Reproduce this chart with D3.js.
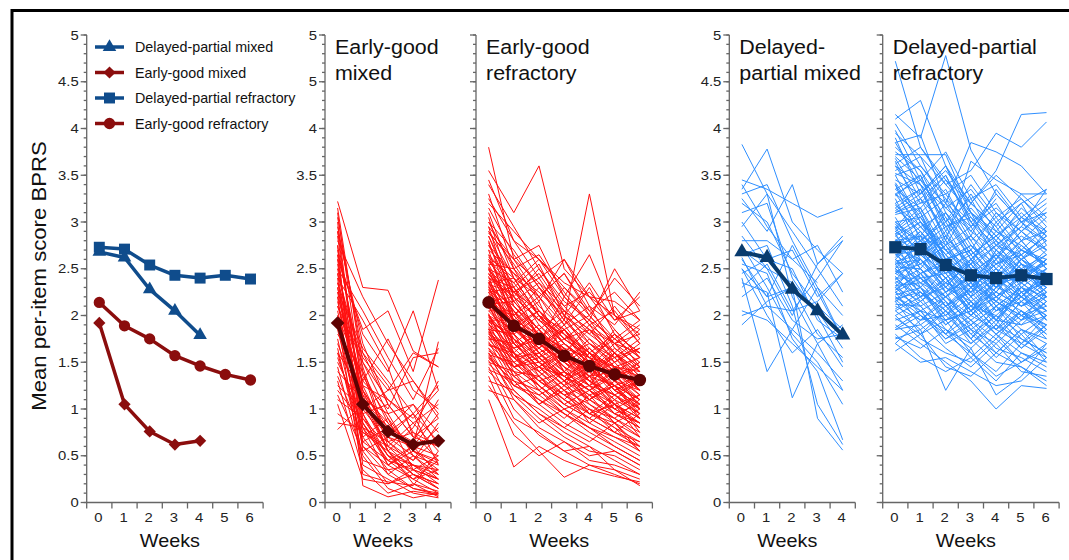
<!DOCTYPE html>
<html lang="en">
<head>
  <meta charset="UTF-8">
  <title>BPRS trajectories</title>
  <script src="https://d3js.org/d3.v7.min.js"></script>
  <style>
    body { margin: 0; background: #fff; }
    svg { display: block; font-family: "Liberation Sans", Arial, sans-serif; }
    .tick-label { fill: #222; }
    .axis-line { stroke: #666; stroke-width: 1.3; fill: none; }
  </style>
</head>
<body>
  <svg width="1069" height="560"></svg>
  <script>
    const svg = d3.select("svg");

    // ---- data ----
    const weekTicks = [0, 1, 2, 3, 4, 5, 6];
    const yTicks = [0, 0.5, 1, 1.5, 2, 2.5, 3, 3.5, 4, 4.5, 5];
    const yLabels = ["0", "0.5", "1", "1.5", "2", "2.5", "3", "3.5", "4", "4.5", "5"];
    const yLabelsPanel2 = ["0", "0.5", "1", "1.5", "2", "2.5", "3", "3.5", "4", "5", "5"];

    const legendLabels = ["Delayed-partial mixed", "Early-good mixed", "Delayed-partial refractory", "Early-good refractory"];
    const panelTitles = [
      ["Early-good", "mixed"],
      ["Early-good", "refractory"],
      ["Delayed-", "partial mixed"],
      ["Delayed-partial", "refractory"]
    ];

    const meanDPM = [2.68, 2.62, 2.28, 2.05, 1.79];
    const meanEGM = [1.92, 1.05, 0.76, 0.62, 0.66];
    const meanDPR = [2.73, 2.71, 2.54, 2.43, 2.40, 2.43, 2.39];
    const meanEGR = [2.14, 1.89, 1.75, 1.57, 1.46, 1.37, 1.31];

    const egmLines = [
      [3.22,2.30,2.27,1.62,1.45],[3.10,1.20,0.55,0.30,0.20],[2.95,1.60,1.25,0.75,0.45],[2.85,0.95,0.40,0.25,0.10],
      [2.80,2.20,1.70,1.30,0.90],[2.70,1.35,0.90,0.55,0.35],[2.65,1.80,1.40,2.05,1.20],[2.60,0.70,0.35,0.15,0.08],
      [2.55,1.10,0.80,1.05,0.60],[2.50,2.05,1.55,1.10,1.65],[2.45,1.45,0.65,0.40,0.30],[2.40,0.55,0.20,0.35,0.15],
      [2.35,1.25,1.10,0.85,0.55],[2.30,0.90,0.60,0.45,0.70],[2.25,1.65,1.30,0.95,1.25],[2.20,0.40,0.25,0.10,0.05],
      [2.15,1.05,0.70,0.60,1.72],[2.10,1.50,0.95,0.50,0.40],[2.05,0.85,0.50,0.30,0.20],[2.00,1.30,1.75,1.20,1.00],
      [1.95,0.65,0.45,0.60,0.95],[1.90,1.15,0.85,0.55,0.80],[1.85,0.75,0.55,0.20,0.12],[1.80,1.40,0.60,0.35,0.50],
      [1.75,0.60,0.30,0.50,0.25],[1.70,1.00,1.20,1.60,1.45],[1.65,0.50,0.15,0.05,0.10],[1.60,1.20,0.75,0.95,0.40],
      [1.55,0.80,0.45,0.25,0.35],[1.50,0.95,1.05,0.70,0.60],[1.45,0.45,0.35,0.40,0.20],[1.40,1.10,0.55,0.80,1.30],
      [1.35,0.70,0.90,0.35,0.25],[1.30,0.35,0.10,0.20,0.06],[1.25,1.00,0.65,0.45,0.85],[1.20,0.85,0.40,0.60,0.30],
      [1.15,0.55,0.70,0.95,0.65],[1.10,0.90,0.50,0.25,0.45],[1.05,0.25,0.20,0.30,0.15],[0.95,0.75,0.60,0.85,1.05],
      [0.85,0.80,0.30,0.15,0.10],[0.78,1.05,0.55,0.40,0.35],[3.05,1.50,1.10,0.90,1.20],[2.75,0.18,0.06,0.12,0.08],
      [2.40,1.95,1.45,0.70],[2.00,1.60,1.05],[1.95,0.30,0.22,0.18,0.55],[2.90,1.00],[1.60,0.65,0.80,0.55,0.42],
      [2.20,1.30,1.00,1.55,1.60],[2.60,1.85,2.05,1.40,2.38],[2.30,1.10,0.95,1.05,0.75],
      [3.15,1.40,0.85,0.60,0.50],[3.00,0.85,0.45,0.35,0.25],[2.90,1.70,1.05,0.70,0.90],[2.75,1.25,0.70,0.50,0.30],
      [2.65,0.60,0.40,0.55,0.45],[2.50,1.15,0.55,0.30,0.15],[2.45,0.80,0.65,0.75,0.60],[2.35,1.55,1.20,1.30,0.95],
      [2.25,0.95,0.50,0.40,0.25],[2.10,1.20,0.80,0.65,1.10]
    ];

    const egrLines = [
      [3.80,2.60,2.75,2.20,1.90,1.70,1.50],[3.55,3.10,3.60,2.50,2.20,2.00,1.85],[3.45,2.80,2.40,2.60,2.10,1.90,2.25],
      [3.30,2.50,2.20,1.90,2.30,1.80,1.60],[3.20,2.90,2.60,2.30,2.00,2.40,2.10],[3.10,2.40,2.00,1.70,1.50,1.30,1.20],
      [3.05,2.20,2.50,2.10,1.80,1.60,1.40],[3.00,2.70,2.30,1.95,3.30,2.00,1.70],[2.95,2.10,1.80,1.60,1.40,1.25,1.10],
      [2.90,2.55,2.15,2.60,2.20,1.85,1.55],[2.85,2.30,2.00,1.75,1.55,1.45,1.35],[2.80,2.00,1.70,2.20,1.95,2.50,2.05],
      [2.75,2.45,2.10,1.85,1.60,1.40,1.00],[2.70,1.90,1.60,1.35,1.20,1.05,0.90],[2.65,2.35,2.60,2.20,2.65,2.00,1.80],
      [2.60,2.15,1.85,1.50,1.35,1.60,1.30],[2.55,2.50,2.05,1.80,1.45,1.20,1.05],[2.50,1.80,1.55,1.30,1.10,0.95,0.80],
      [2.48,2.25,2.40,2.00,1.75,1.55,1.65],[2.45,2.05,1.75,1.95,1.65,1.40,1.20],[2.42,1.70,1.45,1.25,1.60,1.30,1.50],
      [2.40,2.20,1.95,1.70,1.50,1.80,1.45],[2.38,1.95,2.15,1.55,1.30,1.15,0.95],[2.35,2.40,2.00,1.85,2.00,1.70,1.60],
      [2.32,1.60,1.30,1.10,0.90,0.75,0.60],[2.30,2.10,1.80,1.65,1.40,1.55,1.25],[2.28,1.85,1.65,1.90,1.55,1.35,1.15],
      [2.25,2.30,1.90,1.60,1.85,1.50,1.70],[2.22,1.75,1.50,1.35,1.15,1.00,0.85],[2.20,2.00,2.20,1.80,1.60,1.45,1.40],
      [2.18,1.55,1.70,1.45,1.25,1.60,1.35],[2.15,1.90,1.55,1.30,1.50,1.20,1.00],[2.12,2.15,1.85,2.05,1.70,1.55,1.75],
      [2.10,1.65,1.40,1.15,1.00,0.80,0.65],[2.08,1.80,2.00,1.60,1.35,1.25,1.10],[2.05,2.05,1.60,1.75,1.55,1.30,1.45],
      [2.02,1.45,1.25,1.00,0.85,1.05,0.70],[2.00,1.85,1.70,1.50,1.65,1.40,1.55],[1.98,1.60,1.85,1.40,1.20,0.95,0.80],
      [1.95,1.95,1.50,1.65,1.40,1.60,1.25],[1.92,1.40,1.20,0.95,0.75,0.60,0.45],[1.90,1.75,1.55,1.30,1.45,1.15,1.30],
      [1.88,1.50,1.65,1.45,1.10,1.25,0.95],[1.85,1.80,1.40,1.20,1.35,1.00,1.15],[1.82,1.35,1.15,1.30,0.95,0.80,0.55],
      [1.80,1.65,1.75,1.50,1.30,1.45,1.20],[1.78,1.30,1.05,0.85,0.70,0.55,0.40],[1.75,1.70,1.45,1.60,1.45,1.25,1.35],
      [1.72,1.25,1.35,1.05,0.90,1.10,0.75],[1.70,1.55,1.30,1.15,1.25,0.95,0.85],[1.68,1.60,1.20,1.40,1.05,0.85,1.00],
      [1.65,1.20,0.95,0.75,0.60,0.45,0.30],[1.62,1.45,1.50,1.25,1.10,1.30,1.05],[1.60,1.10,0.85,1.00,0.80,0.65,0.50],
      [1.58,1.50,1.25,1.05,0.90,0.75,0.95],[1.55,1.35,1.10,0.90,1.15,0.85,0.70],[1.52,1.00,0.72,0.55,0.40,0.30,0.20],
      [1.50,1.40,1.35,1.10,0.95,1.05,0.80],[1.45,0.90,0.75,0.55,0.60,0.35,0.25],[1.42,1.30,1.05,1.20,0.85,0.70,0.55],
      [1.40,1.15,0.90,0.70,0.55,0.50,0.35],[1.35,0.72,0.50,0.65,0.45,0.40,0.30],[1.30,1.20,0.95,0.80,1.00,0.75,0.65],
      [1.25,0.85,0.55,0.27,0.40,0.35,0.18],[1.20,1.10,0.80,0.65,0.50,0.55,0.40],[1.10,0.38,0.60,0.45,0.35,0.28,0.22],
      [2.60,2.30,2.55,2.00,2.35,1.95,2.20],[2.45,2.20,1.95,2.30,2.05,1.75,1.95],[2.35,2.05,1.80,1.55,1.70,1.45,1.55],
      [2.25,1.70,1.90,1.65,1.35,1.50,1.20],[2.15,2.20,1.75,1.45,1.30,1.10,1.30],[2.05,1.75,1.35,1.55,1.25,1.15,0.90],
      [1.95,1.55,1.60,1.35,1.50,1.20,1.05],[1.85,1.60,1.35,1.15,0.95,1.15,1.00],[1.75,1.45,1.55,1.35,1.20,1.35,1.10],
      [1.65,1.40,1.05,1.25,1.00,0.90,0.75],[2.90,2.40,2.20,2.45,2.00,1.70,1.90],[2.70,2.45,2.25,2.00,1.80,2.10,1.75],
      [2.55,2.00,2.30,1.90,2.10,1.65,1.45],[2.40,2.30,1.75,2.00,1.60,1.80,1.60],[2.30,1.90,2.05,1.75,1.85,1.60,1.85],
      [2.20,1.85,1.60,1.40,1.65,1.35,1.50],[2.10,2.00,1.70,1.85,1.45,1.70,1.40],[2.00,1.70,1.50,1.25,1.40,1.05,1.15],
      [1.90,1.65,1.80,1.55,1.35,1.40,1.25],[1.80,1.55,1.40,1.60,1.30,1.15,0.95],[3.15,2.65,2.30,2.05,1.85,1.60,1.35],
      [2.85,2.20,1.95,1.70,1.50,1.85,1.55],[2.65,1.95,1.70,1.50,1.25,1.05,0.85],[2.50,2.10,1.85,1.60,1.90,1.55,1.30],
      [2.35,1.80,1.55,1.85,1.55,1.25,1.00],[2.25,1.95,1.65,1.40,1.20,1.40,1.15],[2.10,1.60,1.45,1.20,1.05,0.90,1.10],
      [1.95,1.75,1.50,1.30,1.60,1.30,1.10],[2.75,2.25,2.05,1.80,1.60,1.35],[2.20,1.90,1.60,1.35],[1.85,1.45,1.25],
      [2.50,2.35,2.00,1.75,1.55],[3.25,2.80,2.60,2.35,2.20,2.15,1.95],[1.60,1.25,1.10,0.95,0.80,0.60,0.45],
      [2.95,2.60,2.20,2.45,2.05,2.25,1.95],[2.78,2.15,2.35,1.95,1.70,1.50,1.65],[2.62,2.40,2.00,1.75,1.95,1.60,1.40],
      [2.52,1.95,1.65,1.85,1.50,1.30,1.05],[2.44,2.15,1.85,1.55,1.40,1.65,1.45],[2.36,1.85,2.05,1.70,1.45,1.20,1.35],
      [2.27,2.05,1.70,1.50,1.75,1.45,1.25],[2.18,1.70,1.45,1.65,1.30,1.05,0.90],[2.09,1.90,1.75,1.40,1.25,1.40,1.20],
      [2.01,1.55,1.30,1.10,1.35,1.10,0.95],[1.93,1.80,1.55,1.70,1.45,1.20,1.30],[1.86,1.35,1.45,1.20,0.95,0.85,0.60],
      [1.77,1.60,1.25,1.05,1.20,0.95,1.05],[1.69,1.45,1.60,1.30,1.15,1.25,0.90],[1.57,1.15,1.00,0.80,0.65,0.85,0.55],
      [1.48,1.25,1.15,0.95,0.80,0.70,0.60],[3.40,2.95,2.50,2.15,1.95,1.75,1.55],[3.00,2.50,2.65,2.25,1.90,2.05,1.70],
      [2.88,2.60,2.35,2.10,2.25,1.95,2.05],[2.58,2.25,2.45,2.05,1.85,1.70,1.80],[2.33,2.25,1.95,1.80,1.55,1.75,1.55],
      [2.14,1.95,1.80,1.65,1.55,1.35,1.45],[1.99,1.70,1.45,1.35,1.10,1.25,1.00],[1.83,1.50,1.30,1.40,1.20,1.00,0.85],
      [1.54,1.30,1.20,1.00,1.10,0.90,0.70]
    ];

    const dpmLines = [
      [3.83,3.30,2.90,2.50,2.10],[3.45,3.35,3.20,3.05,3.15],[3.35,3.78,3.00,2.70,2.45],[3.30,3.40,2.80,2.30,1.75],
      [3.25,2.90,3.40,2.55,2.80],[3.10,3.20,2.40,2.00,1.50],[3.00,2.60,2.70,2.20,2.45],[2.95,3.30,2.20,1.70,1.20],
      [2.85,2.50,2.00,2.55,2.85],[2.80,2.80,2.60,2.75,2.25],[2.75,2.30,1.80,1.50,1.05],[2.70,2.50,2.35,2.05,1.65],
      [2.65,2.75,2.10,1.05,0.62],[2.60,2.20,2.30,0.90,0.56],[2.55,2.45,1.75,1.40,0.67],[2.50,2.00,1.60,1.85,1.45],
      [2.45,2.60,2.50,1.95,1.75],[2.40,1.40,1.85,1.60,1.30],[2.35,2.25,1.12,1.70,1.90],[2.30,2.55,2.05,2.15,2.45],
      [2.20,2.40,1.95,1.75,1.80],[2.00,2.10,1.85,2.30,2.00],[1.90,2.15,2.30,1.80,1.55],[3.40,2.95,2.60,2.35],
      [2.62,2.10,2.05,2.40,2.80],[3.20,3.00,2.45,2.10,1.85],[2.50,2.20,2.75,2.25,1.75],[2.05,1.95,1.70,1.45,1.20]
    ];

    const dprLines = [
      [4.72,3.80,3.40,3.10,2.80,2.60,2.90],[4.15,3.90,4.78,3.77,3.30,3.00,2.70],[4.10,4.30,3.60,3.20,3.55,4.15,4.17],
      [3.95,3.70,3.40,3.55,3.95,3.80,4.07],[3.85,3.93,3.20,3.85,3.75,3.60,3.30],[3.72,3.72,3.72,3.10,2.90,2.70,2.60],
      [3.85,3.40,2.80,3.65,3.45,3.30,3.30],[3.60,3.20,3.50,3.00,2.75,2.95,3.35],[3.55,3.70,3.10,2.70,3.10,2.80,2.50],
      [3.50,3.00,2.70,2.50,2.30,2.60,2.40],[3.45,3.30,3.60,3.10,2.60,3.05,2.90],[3.40,2.80,3.00,2.60,2.80,2.40,2.20],
      [3.35,3.50,2.90,3.30,2.90,3.20,2.75],[3.30,3.10,2.60,2.30,2.50,2.20,2.00],[3.25,2.70,3.10,2.80,2.40,2.70,2.55],
      [3.20,3.35,2.80,2.55,3.00,2.65,2.85],[3.15,2.90,2.50,2.20,1.90,2.30,2.10],[3.10,3.20,3.30,2.90,2.70,2.50,2.65],
      [3.05,2.60,2.30,2.60,2.20,2.45,2.30],[3.00,3.05,2.70,2.40,2.60,2.90,3.10],[2.95,2.50,2.85,2.50,2.15,2.00,1.80],
      [2.92,3.15,2.60,2.75,2.45,2.75,2.50],[2.90,2.70,2.40,2.05,2.35,2.10,2.25],[2.88,2.40,2.20,2.35,1.95,2.25,1.95],
      [2.85,3.00,2.55,2.20,2.70,2.40,2.60],[2.82,2.55,2.75,2.45,2.25,2.55,2.20],[2.80,2.85,2.30,2.60,2.40,2.20,2.45],
      [2.78,2.30,2.10,1.90,2.10,1.85,1.70],[2.75,2.95,2.65,2.30,2.55,2.65,2.35],[2.72,2.60,2.35,2.55,2.20,2.35,2.15],
      [2.70,2.20,2.50,2.15,1.85,2.15,2.40],[2.68,2.75,2.45,2.70,2.35,2.00,2.20],[2.65,2.45,2.20,2.00,2.30,2.50,2.30],
      [2.62,2.90,2.60,2.40,2.05,2.30,2.10],[2.60,2.35,2.05,2.30,2.50,2.20,1.95],[2.58,2.65,2.40,2.10,1.80,1.60,1.50],
      [2.55,2.15,2.35,2.55,2.30,2.60,2.80],[2.52,2.50,2.15,1.95,2.15,1.95,2.05],[2.50,2.80,2.50,2.25,2.45,2.25,2.35],
      [2.48,2.25,2.00,2.20,1.95,2.35,2.15],[2.45,2.55,2.30,2.05,2.20,2.05,1.85],[2.42,2.10,2.25,1.85,1.70,1.95,2.25],
      [2.40,2.40,2.10,2.35,2.05,2.15,2.00],[2.38,2.65,2.45,2.15,2.35,2.40,2.55],[2.35,2.00,1.85,1.70,1.90,1.75,1.60],
      [2.32,2.35,2.20,2.45,2.10,2.30,2.20],[2.30,2.05,1.95,2.05,1.80,2.00,1.90],[2.28,2.45,2.55,2.25,2.60,2.25,2.40],
      [2.25,1.90,2.10,1.80,1.60,1.85,1.75],[2.22,2.30,1.90,2.10,2.25,2.10,2.30],[2.20,2.00,1.75,1.95,1.65,1.55,1.40],
      [2.18,2.25,2.05,1.85,2.05,2.20,2.05],[2.15,1.80,1.95,1.60,1.40,1.70,1.90],[2.12,2.10,1.80,2.00,1.85,1.70,1.55],
      [2.10,1.95,2.15,1.75,1.50,1.45,1.30],[2.05,2.20,1.85,1.65,1.90,1.65,1.85],[2.00,1.75,1.60,1.50,1.75,1.50,1.65],
      [1.95,2.05,1.70,1.85,1.55,1.80,1.50],[1.90,1.70,1.50,1.30,1.00,1.25,1.22],[1.85,1.90,1.65,1.45,1.70,1.40,1.35],
      [1.80,1.55,1.40,1.55,1.30,1.60,1.45],[1.75,1.85,1.20,1.65,1.15,1.35,1.70],[1.70,1.50,1.55,1.40,1.25,1.30,1.55],
      [1.62,1.80,1.45,1.35,1.60,1.45,1.25],[3.90,3.30,3.60,3.00,3.20,2.80,3.05],[3.75,3.55,3.00,3.40,3.05,3.25,2.95],
      [3.65,3.10,3.35,2.85,3.35,3.00,3.20],[3.50,3.60,3.25,3.00,2.65,2.85,2.70],[3.40,3.00,2.75,3.20,2.95,2.55,2.45],
      [3.30,3.45,3.05,2.65,2.85,3.10,2.85],[3.20,2.85,3.20,2.75,2.50,2.35,2.60],[3.10,3.25,2.75,2.95,2.55,2.70,2.95],
      [3.00,2.75,2.95,2.50,2.75,2.50,2.30],[2.90,3.10,2.50,2.65,2.30,2.45,2.65],[2.85,2.65,2.80,2.35,2.55,2.80,2.50],
      [2.80,2.50,2.20,2.45,2.65,2.30,2.05],[2.75,2.85,2.70,2.40,2.15,2.45,2.25],[2.70,2.45,2.60,2.20,2.40,2.15,2.35],
      [2.65,2.70,2.25,2.50,2.25,2.60,2.45],[2.60,2.40,2.45,2.10,2.00,2.25,1.95],[2.55,2.60,2.35,2.25,2.45,2.35,2.60],
      [2.50,2.30,2.00,2.30,2.15,2.00,2.10],[2.45,2.70,2.40,2.00,2.30,2.55,2.35],[2.40,2.20,2.30,2.15,1.85,2.05,1.90],
      [2.35,2.50,2.25,2.40,2.20,2.40,2.20],[2.30,2.15,1.90,2.10,2.35,2.10,2.30],[2.25,2.40,2.15,1.80,2.00,1.80,2.00],
      [2.20,2.05,2.20,1.95,1.75,2.05,1.80],[2.15,2.30,1.95,2.15,1.95,1.90,2.15],[2.05,1.85,2.05,1.75,2.10,1.75,1.60],
      [3.70,3.45,3.20,2.95,3.30,3.00,2.80],[3.35,3.15,3.45,3.05,2.80,3.15,2.90],[3.15,3.35,2.85,3.15,2.85,2.60,2.75],
      [2.95,2.80,3.05,2.60,2.90,2.75,2.55],[2.80,3.00,2.65,2.85,2.60,2.90,2.65],[2.60,2.85,2.50,2.30,2.70,2.45,2.70],
      [2.45,2.30,2.60,2.70,2.40,2.20,2.50],[2.30,2.60,2.35,2.05,2.40,2.60,2.35],[2.15,2.45,2.10,2.30,1.95,2.20,2.45],
      [2.00,2.15,2.40,2.00,2.20,1.95,2.15],[1.85,2.00,1.80,2.15,1.85,2.15,1.85],[1.70,1.95,2.00,1.75,2.00,1.70,2.00],
      [3.30,2.95,2.65,2.40],[2.90,2.70,2.40,2.60,2.30],[2.50,2.25,2.05],[3.60,3.40,3.15,2.90,3.25],
      [2.70,2.90,2.55,2.35,2.65,2.45],[2.25,2.10,1.80,1.60,1.35,1.50],[3.00,2.80,2.55,2.75,2.55,2.35,2.50],
      [2.55,2.75,2.85,2.55,2.75,2.65,2.85],
      [4.05,3.60,3.30,3.50,3.10,2.90,3.15],[3.98,3.45,3.75,3.25,3.40,3.05,2.85],[3.80,3.55,3.15,3.35,3.00,3.20,3.35],
      [3.68,3.25,3.50,2.95,3.15,2.90,2.70],[3.52,3.40,3.00,3.25,2.75,3.00,3.10],[3.42,3.05,3.25,2.80,3.05,2.70,2.55],
      [3.28,3.50,2.95,3.05,2.70,2.95,2.80],[3.18,2.95,3.10,2.65,2.85,2.55,2.40],[3.08,3.15,2.70,2.85,2.50,2.80,2.90],
      [2.98,2.65,2.90,2.45,2.65,2.40,2.60],[2.87,3.05,2.60,2.70,2.40,2.65,2.35],[2.77,2.55,2.75,2.35,2.15,2.45,2.55],
      [2.67,2.80,2.45,2.55,2.30,2.20,2.40],[2.57,2.35,2.50,2.20,2.40,2.50,2.25],[2.47,2.60,2.25,2.40,2.10,2.30,2.50],
      [2.37,2.20,2.40,2.05,2.25,2.10,2.20],[2.27,2.45,2.10,2.25,1.95,2.25,2.05],[2.17,1.95,2.20,1.90,2.10,1.90,2.00],
      [2.07,2.25,1.95,2.05,1.80,2.05,1.75],[1.97,1.80,2.05,1.70,1.95,1.65,1.90],[1.87,2.05,1.75,1.90,1.60,1.85,1.55],
      [1.77,1.65,1.85,1.55,1.80,1.50,1.70],[3.62,3.80,3.45,3.20,3.50,3.25,3.00],[3.12,3.30,3.55,3.20,2.95,3.30,3.05],
      [2.93,3.25,2.95,3.10,2.85,3.05,3.25]
    ];

    // ---- layout ----
    const stretch = 1.1;
    const y = d3.scaleLinear().domain([0, 5]).range([502.5, 35]);

    const blue = "#0f4c8c", red = "#8b0d0d";
    const navy = "#083b6e", maroon = "#5e0303";
    const lightRed = "#ff1010", lightBlue = "#2f8fff";

    const panels = [
      { left: 86.7, n: 7, labels: yLabels },
      { left: 325, n: 5, labels: yLabelsPanel2, title: panelTitles[0], lines: egmLines, mean: meanEGM, color: lightRed, meanColor: maroon, shape: "diamond" },
      { left: 476, n: 7, labels: null, title: panelTitles[1], lines: egrLines, mean: meanEGR, color: lightRed, meanColor: maroon, shape: "circle" },
      { left: 729.3, n: 5, labels: yLabels, title: panelTitles[2], lines: dpmLines, mean: meanDPM, color: lightBlue, meanColor: navy, shape: "triangle" },
      { left: 882.7, n: 7, labels: null, title: panelTitles[3], lines: dprLines, mean: meanDPR, color: lightBlue, meanColor: navy, shape: "square" }
    ];
    const band = 25.2;

    function addText(g, x, yy, str, size, anchor) {
      return g.append("text")
        .attr("transform", `translate(${x},${yy}) scale(${stretch},1)`)
        .attr("font-size", size)
        .attr("text-anchor", anchor || "start")
        .text(str);
    }

    const symbols = {
      triangle: { type: d3.symbolTriangle, size: 80, rot: 0 },
      square: { type: d3.symbolSquare, size: 120, rot: 0 },
      circle: { type: d3.symbolCircle, size: 100, rot: 0 },
      diamond: { type: d3.symbolSquare, size: 75, rot: 45 }
    };

    function drawSeries(g, x, values, color, width, shape, scale) {
      const line = d3.line().x((d, i) => x(i)).y(d => y(d));
      g.append("path")
        .attr("d", line(values))
        .attr("fill", "none")
        .attr("stroke", color)
        .attr("stroke-width", width)
        .attr("stroke-linejoin", "round");
      const s = symbols[shape];
      g.selectAll(null)
        .data(values)
        .enter()
        .append("path")
        .attr("d", d3.symbol().type(s.type).size(s.size * (scale || 1)))
        .attr("transform", (d, i) => `translate(${x(i)},${y(d)}) rotate(${s.rot})`)
        .attr("fill", color);
    }

    panels.forEach((p, pi) => {
      const g = svg.append("g");
      const right = p.left + p.n * band;
      const x = d3.scaleLinear().domain([-0.5, p.n - 0.5]).range([p.left, right]);

      // y axis with minor ticks
      g.append("line").attr("class", "axis-line")
        .attr("x1", p.left).attr("x2", p.left).attr("y1", y(5)).attr("y2", y(0));
      const minor = d3.range(0, 51).map(v => v / 10);
      g.selectAll(null).data(minor).enter().append("line")
        .attr("class", "axis-line")
        .attr("stroke-width", 0.8)
        .attr("x1", p.left - 3).attr("x2", p.left)
        .attr("y1", d => y(d)).attr("y2", d => y(d));
      g.selectAll(null).data(yTicks).enter().append("line")
        .attr("class", "axis-line")
        .attr("x1", p.left - 6).attr("x2", p.left)
        .attr("y1", d => y(d)).attr("y2", d => y(d));
      if (p.labels) {
        yTicks.forEach((v, i) => {
          addText(g, p.left - 8, y(v) + 4.5, p.labels[i], 13.5, "end").attr("class", "tick-label");
        });
      }

      // x axis
      g.append("line").attr("class", "axis-line")
        .attr("x1", p.left).attr("x2", right).attr("y1", y(0)).attr("y2", y(0));
      const bounds = d3.range(0, p.n + 1).map(i => i - 0.5);
      g.selectAll(null).data(bounds).enter().append("line")
        .attr("class", "axis-line")
        .attr("x1", d => x(d)).attr("x2", d => x(d))
        .attr("y1", y(0)).attr("y2", y(0) + 6);
      weekTicks.slice(0, p.n).forEach(w => {
        addText(g, x(w) - 1, 522, String(w), 13.5, "middle").attr("class", "tick-label");
      });
      addText(g, (p.left + right) / 2 - 5, 547, "Weeks", 18, "middle").attr("fill", "#111");

      if (pi === 0) {
        // summary panel with legend
        drawSeries(g, x, meanDPR, blue, 3.5, "square");
        drawSeries(g, x, meanDPM, blue, 3.5, "triangle");
        drawSeries(g, x, meanEGR, red, 3.5, "circle");
        drawSeries(g, x, meanEGM, red, 3.5, "diamond");

        const legendShapes = ["triangle", "diamond", "square", "circle"];
        const legendColors = [blue, red, blue, red];
        const legendY = [47, 72.5, 98, 123.5];
        legendLabels.forEach((lab, i) => {
          g.append("line")
            .attr("x1", 95).attr("x2", 124).attr("y1", legendY[i]).attr("y2", legendY[i])
            .attr("stroke", legendColors[i]).attr("stroke-width", 3.5);
          const s = symbols[legendShapes[i]];
          g.append("path")
            .attr("d", d3.symbol().type(s.type).size(s.size)())
            .attr("transform", `translate(109.5,${legendY[i]}) rotate(${s.rot})`)
            .attr("fill", legendColors[i]);
          g.append("text")
            .attr("x", 135).attr("y", legendY[i] + 5)
            .attr("font-size", 14.3)
            .attr("fill", "#111")
            .text(lab);
        });
      } else {
        const line = d3.line().x((d, i) => x(i)).y(d => y(d));
        g.selectAll(null).data(p.lines).enter().append("path")
          .attr("d", d => line(d))
          .attr("fill", "none")
          .attr("stroke", p.color)
          .attr("stroke-width", 1);
        drawSeries(g, x, p.mean, p.meanColor, 4, p.shape, 1.25);

        addText(g, p.left + 10, 54, p.title[0], 19.5, "start").attr("fill", "#111");
        addText(g, p.left + 10, 80, p.title[1], 19.5, "start").attr("fill", "#111");
      }
    });

    // y axis title
    svg.append("text")
      .attr("transform", "translate(46,276) rotate(-90) scale(1.08,1)")
      .attr("text-anchor", "middle")
      .attr("font-size", 20.5)
      .attr("fill", "#111")
      .text("Mean per-item score BPRS");

    // frame
    svg.append("path")
      .attr("d", "M12,560 V10.5 H1069")
      .attr("fill", "none")
      .attr("stroke", "#000")
      .attr("stroke-width", 3);
  </script>
</body>
</html>
